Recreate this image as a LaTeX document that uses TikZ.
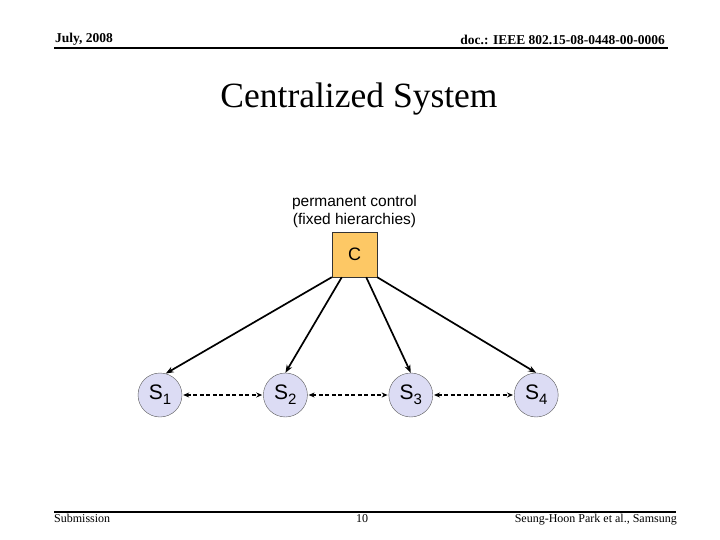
\documentclass[tikz,border=0pt]{standalone}
\usepackage{fontspec}
\setmainfont{Liberation Serif}
\setsansfont{Liberation Sans}
\usetikzlibrary{arrows.meta, positioning, calc}
\definecolor{boxorange}{HTML}{FDC865}
\definecolor{nodelilac}{HTML}{DCDCF4}
\newcommand{\stsub}[1]{\raisebox{-5pt}{\fontsize{15}{15}\selectfont #1}}
\tikzset{
    slide/.style={x=1pt, y=-1pt, >=Stealth, font=\sffamily},
    ctrlbox/.style={draw=black!80, fill=boxorange, minimum width=45pt, minimum height=45pt, inner sep=0pt, font=\sffamily\fontsize{18}{20}\selectfont},
    station/.style={draw=black!65, fill=nodelilac, circle, minimum size=44pt, inner sep=0pt, font=\sffamily\fontsize{21}{22}\selectfont},
    control/.style={-{Stealth[length=8pt, width=6pt]}, line width=1.7pt},
    peer/.style={{Stealth[length=6pt, width=5pt]}-{Stealth[length=6pt, width=5pt]}, dash pattern=on 4pt off 2.5pt, line width=1.4pt, shorten <=1pt, shorten >=1pt},
    rule/.style={line width=2pt},
    header/.style={font=\bfseries\fontsize{13.5}{15}\selectfont, inner sep=0pt},
    footer/.style={font=\fontsize{12}{14}\selectfont, inner sep=0pt},
}

\begin{document}
\begin{tikzpicture}[slide]
    \useasboundingbox (0,0) rectangle (720,540);

    % header and footer
    \node[header, anchor=base west] (date)  at (55,43)  {July, 2008};
    \node[header, anchor=base east] (docnr) at (665,45) {doc.: IEEE 802.15-08-0448-00-0006};
    \draw[rule] (54,48) -- (668,48);
    \draw[rule] (54,512) -- (676,512);
    \node[footer, anchor=base west] (sub)    at (54,522)  {Submission};
    \node[footer, anchor=base]      (page)   at (362,522) {10};
    \node[footer, anchor=base east] (author) at (677,522) {Seung-Hoon Park et al., Samsung};

    \node[font=\fontsize{35.5}{40}\selectfont, anchor=base] (title) at (359,108) {Centralized System};

    % controller and stations
    \node[ctrlbox] (C) at (354.5,254.5) {C};
    \node[align=center, font=\sffamily\fontsize{15.5}{18}\selectfont, above=1pt of C] (perm) {permanent control\\(fixed hierarchies)};

    \node[station] (S1) at (160,395) {S\stsub{1}};
    \node[station, right=81pt of S1] (S2) {S\stsub{2}};
    \node[station, right=81pt of S2] (S3) {S\stsub{3}};
    \node[station, right=81pt of S3] (S4) {S\stsub{4}};

    \draw[control] (C.south west)               -- (S1.75);
    \draw[control] ([xshift=10pt]C.south west)  -- (S2.north);
    \draw[control] ([xshift=-11pt]C.south east) -- (S3.north);
    \draw[control] (C.south east)               -- (S4.north);

    \draw[peer] (S1) -- (S2);
    \draw[peer] (S2) -- (S3);
    \draw[peer] (S3) -- (S4);
\end{tikzpicture}
\end{document}
